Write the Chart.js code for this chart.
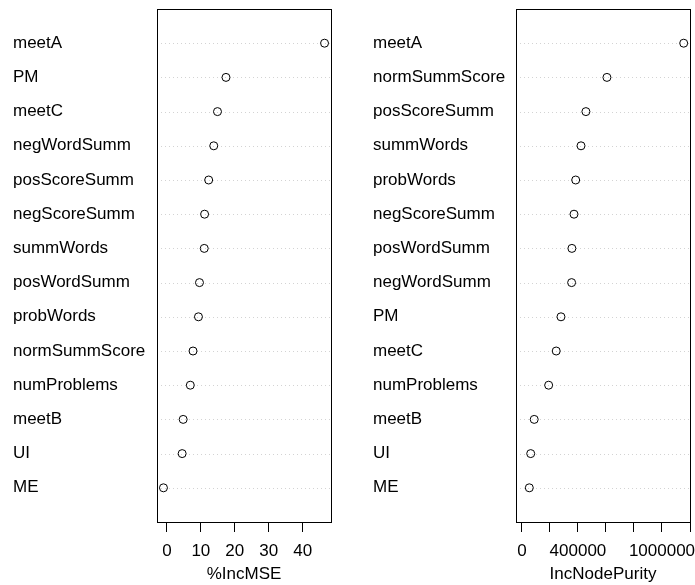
<!DOCTYPE html>
<html lang="en">
<head>
    <meta charset="UTF-8">
    <title>Variable importance</title>
    <script src="https://cdn.jsdelivr.net/npm/chart.js@4.4.1/dist/chart.umd.min.js"></script>
    <style>
        body { margin: 0; background: white; }
        .wrap { position: relative; width: 695px; height: 585px; }
        canvas { position: absolute; top: 0; }
        #mseChart { left: 0; }
        #purityChart { left: 347px; }
    </style>
</head>
<body>
    <div class="wrap">
        <canvas id="mseChart" width="347" height="585"></canvas>
        <canvas id="purityChart" width="348" height="585"></canvas>
    </div>

    <script>
        // %IncMSE panel (top to bottom)
        const mseLabels = ['meetA', 'PM', 'meetC', 'negWordSumm', 'posScoreSumm', 'negScoreSumm', 'summWords',
            'posWordSumm', 'probWords', 'normSummScore', 'numProblems', 'meetB', 'UI', 'ME'];
        const mseValues = [46.4, 17.4, 14.9, 13.8, 12.3, 11.1, 11.0, 9.6, 9.3, 7.7, 6.9, 4.8, 4.5, -1.0];
        const mseTicks = [0, 10, 20, 30, 40];

        // IncNodePurity panel (top to bottom)
        const purityLabels = ['meetA', 'normSummScore', 'posScoreSumm', 'summWords', 'probWords', 'negScoreSumm',
            'posWordSumm', 'negWordSumm', 'PM', 'meetC', 'numProblems', 'meetB', 'UI', 'ME'];
        const purityValues = [1155000, 607000, 457000, 422000, 384000, 372000, 357000, 355000, 279000, 245000,
            191000, 88000, 63000, 53000];
        const purityTicks = [0, 200000, 400000, 600000, 800000, 1000000, 1200000];
        const purityTickLabels = ['0', '', '400000', '', '', '1000000', ''];

        const FONT = { family: "'Liberation Sans', Arial, sans-serif", size: 17 };

        // draws the R-style box round the plot region
        const boxPlugin = {
            id: 'box',
            afterDraw(chart) {
                const a = chart.chartArea, c = chart.ctx;
                c.save();
                c.strokeStyle = '#000';
                c.lineWidth = 1;
                c.strokeRect(Math.round(a.left) + 0.5, Math.round(a.top) + 0.5,
                    Math.round(a.right - a.left), Math.round(a.bottom - a.top));
                c.restore();
            }
        };

        function dotChart(id, labels, values, opts) {
            const pts = values.map((v, i) => ({ x: v, y: i + 1 }));
            return new Chart(document.getElementById(id), {
                type: 'scatter',
                data: {
                    datasets: [{
                        data: pts,
                        pointStyle: 'circle',
                        pointRadius: 4,
                        borderColor: '#000',
                        borderWidth: 1,
                        backgroundColor: 'rgba(0,0,0,0)'
                    }]
                },
                options: {
                    responsive: false,
                    animation: false,
                    layout: { padding: { left: opts.padLeft, right: opts.padRight, top: 9, bottom: 0 } },
                    plugins: { legend: { display: false }, tooltip: { enabled: false } },
                    scales: {
                        y: {
                            type: 'linear',
                            reverse: true,
                            min: 0,
                            max: 15,
                            afterFit(s) {
                                s.width = opts.labelWidth;
                                s.paddingTop = 0;
                                s.paddingBottom = 0;
                            },
                            afterBuildTicks(s) {
                                s.ticks = labels.map((_, i) => ({ value: i + 1 }));
                            },
                            ticks: {
                                autoSkip: false,
                                crossAlign: 'far',
                                color: '#000',
                                font: FONT,
                                callback: v => labels[v - 1] || ''
                            },
                            border: { display: false },
                            grid: { display: false }
                        },
                        x: {
                            type: 'linear',
                            min: opts.xMin,
                            max: opts.xMax,
                            afterFit(s) {
                                s.height = 63;
                                s.paddingLeft = 0;
                                s.paddingRight = 0;
                            },
                            afterBuildTicks(s) {
                                s.ticks = opts.ticks.map(v => ({ value: v }));
                            },
                            ticks: {
                                autoSkip: false,
                                maxRotation: 0,
                                padding: 9,
                                color: '#000',
                                font: FONT,
                                callback: (v, i) => opts.tickLabels[i]
                            },
                            border: { display: false },
                            grid: {
                                drawOnChartArea: false,
                                drawTicks: true,
                                tickLength: 10,
                                color: '#000'
                            },
                            title: {
                                display: true,
                                text: opts.title,
                                color: '#000',
                                font: FONT,
                                padding: { top: 0, bottom: 0 }
                            }
                        }
                    }
                },
                plugins: [boxPlugin, {
                    id: 'dotted',
                    beforeDatasetsDraw(chart) {
                        // light grey dotted guide line for each row
                        const a = chart.chartArea, c = chart.ctx, y = chart.scales.y;
                        c.save();
                        c.strokeStyle = '#d3d3d3';
                        c.lineWidth = 1;
                        c.setLineDash([1, 3]);
                        labels.forEach((_, i) => {
                            const py = Math.round(y.getPixelForValue(i + 1)) + 0.5;
                            c.beginPath();
                            c.moveTo(a.left, py);
                            c.lineTo(a.right, py);
                            c.stroke();
                        });
                        c.restore();
                    }
                }]
            });
        }

        dotChart('mseChart', mseLabels, mseValues, {
            padLeft: 13, padRight: 16, labelWidth: 144,
            xMin: -2.9, xMax: 48.3,
            ticks: mseTicks, tickLabels: mseTicks.map(String),
            title: '%IncMSE'
        });

        dotChart('purityChart', purityLabels, purityValues, {
            padLeft: 26, padRight: 5, labelWidth: 143,
            xMin: -42000, xMax: 1200000,
            ticks: purityTicks, tickLabels: purityTickLabels,
            title: 'IncNodePurity'
        });
    </script>
</body>
</html>
